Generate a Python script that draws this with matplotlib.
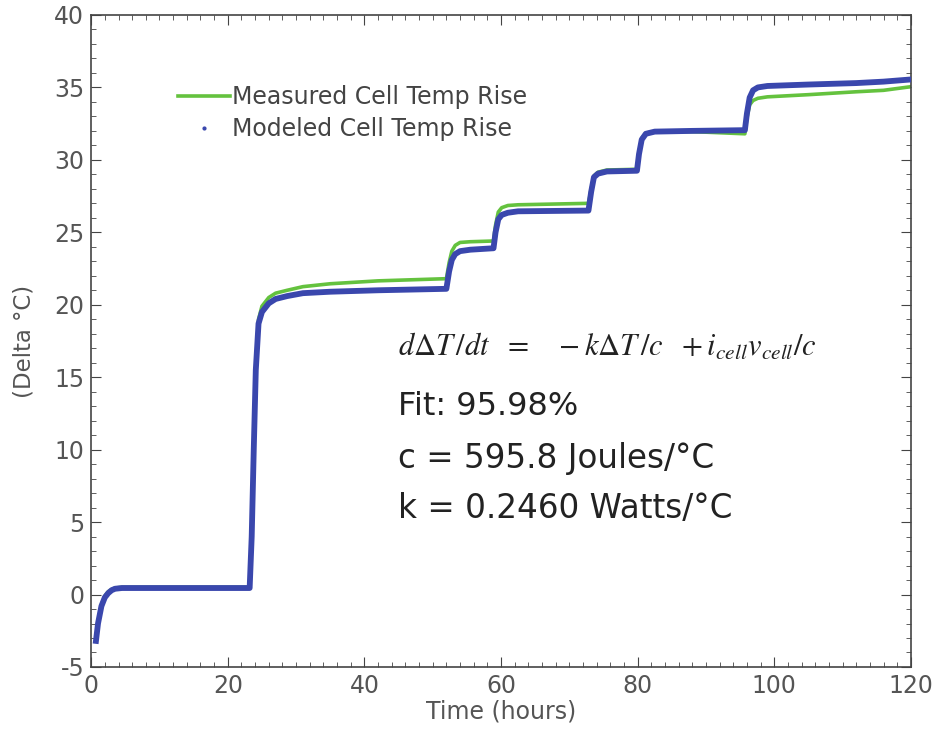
import matplotlib
matplotlib.use("Agg")
import matplotlib.pyplot as plt
from matplotlib.ticker import MultipleLocator

plt.rcParams['font.family'] = ['DejaVu Sans']
plt.rcParams['mathtext.fontset'] = 'stix'
plt.rcParams['axes.unicode_minus'] = False

# values
t_model = [0.7, 1.0, 1.5, 2.0, 2.5, 3.0, 3.5, 4.5, 6.0, 23.2, 23.5, 23.8, 24.1, 24.5,
           25.0, 26.0, 27.0, 28.7, 31.0, 35.0, 42.0, 52.0, 52.4, 52.8, 53.3, 54.0, 55.5,
           58.9, 59.2, 59.6, 60.1, 61.0, 62.5, 72.8, 73.2, 73.6, 74.2, 75.5, 79.9, 80.2,
           80.6, 81.2, 82.5, 88.0, 95.7, 96.0, 96.4, 96.9, 97.6, 99.0, 105.0, 112.0,
           116.0, 120.0]
dT_model = [-3.2, -2.0, -0.8, -0.2, 0.1, 0.3, 0.4, 0.45, 0.45, 0.45, 4.0, 10.0, 15.5, 18.7,
            19.5, 20.1, 20.4, 20.6, 20.8, 20.9, 21.0, 21.1, 22.3, 23.1, 23.5, 23.7, 23.8,
            23.9, 25.0, 25.9, 26.2, 26.35, 26.45, 26.5, 27.8, 28.8, 29.05, 29.2, 29.25,
            30.4, 31.4, 31.8, 31.95, 32.0, 32.05, 33.2, 34.3, 34.8, 35.0, 35.1, 35.2,
            35.3, 35.4, 35.55]

t_meas = [0.7, 1.0, 1.5, 2.0, 2.5, 3.0, 3.5, 4.5, 6.0, 23.2, 23.5, 23.8, 24.1, 24.5,
          25.0, 26.0, 27.0, 28.7, 31.0, 35.0, 42.0, 52.0, 52.4, 52.8, 53.3, 54.0, 55.5,
          58.9, 59.2, 59.6, 60.1, 61.0, 62.5, 72.8, 73.2, 73.6, 74.2, 75.5, 79.9, 80.2,
          80.6, 81.2, 82.5, 88.0, 95.7, 96.0, 96.4, 96.9, 97.6, 99.0, 105.0, 112.0,
          116.0, 120.0]
dT_meas = [-3.1, -1.9, -0.7, -0.1, 0.2, 0.35, 0.45, 0.5, 0.5, 0.5, 4.2, 10.3, 15.8, 19.0,
           19.9, 20.5, 20.8, 21.0, 21.25, 21.45, 21.65, 21.8, 22.9, 23.7, 24.1, 24.3, 24.35,
           24.4, 25.5, 26.4, 26.7, 26.85, 26.9, 27.0, 28.0, 28.9, 29.15, 29.3, 29.35,
           30.5, 31.5, 31.85, 31.95, 31.95, 31.8, 32.9, 33.8, 34.1, 34.25, 34.35, 34.5,
           34.7, 34.8, 35.05]

green = '#64c23e'
blue = '#3a47ad'

fig = plt.figure(figsize=(9.4, 7.49), dpi=100)
ax = fig.add_axes([0.097, 0.1095, 0.872, 0.8705])

ax.plot(t_meas, dT_meas, color=green, lw=2.6, label='Measured Cell Temp Rise', zorder=2)
ax.plot(t_model, dT_model, color=blue, lw=4.2, zorder=3)
# legend proxy: the modeled series is drawn as dense dots in the original
ax.plot([], [], '.', color=blue, ms=4, label='Modeled Cell Temp Rise')

ax.set_xlim(0, 120)
ax.set_ylim(-5, 40)
ax.xaxis.set_major_locator(MultipleLocator(20))
ax.xaxis.set_minor_locator(MultipleLocator(2))
ax.yaxis.set_major_locator(MultipleLocator(5))
ax.yaxis.set_minor_locator(MultipleLocator(1))
ax.tick_params(which='both', direction='in', top=True, right=True, color='#444444')
ax.tick_params(which='major', length=7, labelsize=17, labelcolor='#555555', pad=5)
ax.tick_params(which='minor', length=3.5)
for s in ax.spines.values():
    s.set_color('#444444')
    s.set_linewidth(1.2)

ax.set_xlabel('Time (hours)', fontsize=17, color='#555555', labelpad=1)
ax.set_ylabel('(Delta \u00b0C)', fontsize=16.5, color='#555555', labelpad=13)

leg = ax.legend(loc='upper left', bbox_to_anchor=(0.08, 0.925), frameon=False,
                fontsize=17, handlelength=2.2, handletextpad=0.1, labelspacing=0.35,
                labelcolor='#444444')

ax.text(44.9, 16.5, r'$d\Delta T\,/dt\ \ =\ \ \ -k\Delta T\,/c\ \ +i_{cell}v_{cell}/c$',
        fontsize=22, color='#222222', va='baseline')
ax.text(44.9, 12.4, 'Fit: 95.98%', fontsize=23, color='#222222', va='baseline')
ax.text(44.9, 8.73, 'c = 595.8 Joules/\u00b0C', fontsize=23.5, color='#222222', va='baseline')
ax.text(44.9, 5.28, 'k = 0.2460 Watts/\u00b0C', fontsize=23.5, color='#222222', va='baseline')

fig.savefig('out.png', dpi=100)
